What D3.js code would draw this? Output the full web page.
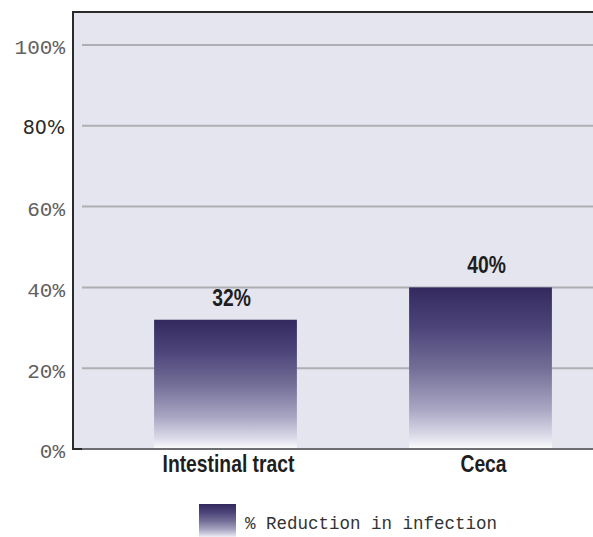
<!DOCTYPE html>
<html>
<head>
<meta charset="utf-8">
<script src="https://cdn.jsdelivr.net/npm/d3@7"></script>
<style>
  html, body { margin: 0; padding: 0; background: #ffffff; }
  svg { display: block; }
</style>
</head>
<body>
<svg id="chart" width="593" height="537"></svg>
<script>
// Chart data
const categories = ["Intestinal tract", "Ceca"];
const reduction = [32, 40];
const valueLabels = ["32%", "40%"];
const yTicks = [0, 20, 40, 60, 80, 100];
const yTickLabels = ["0%", "20%", "40%", "60%", "80%", "100%"];
const legendLabel = "% Reduction in infection";

const svg = d3.select("#chart");

const plot = { left: 73, top: 12, right: 633, bottom: 449 };

const x = d3.scaleBand()
  .domain(categories)
  .range([plot.left, plot.right])
  .paddingInner(0.44)
  .paddingOuter(0.318);

const y = d3.scaleLinear()
  .domain([0, 100])
  .range([plot.bottom, plot.bottom - 404]);

// Bar gradient: deep indigo fading to white
const defs = svg.append("defs");
const grad = defs.append("linearGradient")
  .attr("id", "barGrad")
  .attr("x1", 0).attr("y1", 0).attr("x2", 0).attr("y2", 1);
[
  [0, "#33295f"],
  [0.25, "#4d457a"],
  [0.5, "#736e97"],
  [0.75, "#a8a5c2"],
  [0.92, "#dcdbe9"],
  [1, "#fdfdfe"]
].forEach(([o, c]) => grad.append("stop").attr("offset", o).attr("stop-color", c));

// Plot background
svg.append("rect")
  .attr("x", plot.left).attr("y", plot.top)
  .attr("width", plot.right - plot.left).attr("height", plot.bottom - plot.top)
  .attr("fill", "#e5e5ef");

// Gridlines
svg.append("g")
  .selectAll("line")
  .data(yTicks.filter(d => d > 0))
  .join("line")
  .attr("x1", plot.left + 9).attr("x2", plot.right)
  .attr("y1", d => y(d)).attr("y2", d => y(d))
  .attr("stroke", "#aeaeb4")
  .attr("stroke-width", 2);

// Bars
svg.append("g")
  .selectAll("rect")
  .data(categories)
  .join("rect")
  .attr("x", d => x(d))
  .attr("y", (d, i) => y(reduction[i]))
  .attr("width", x.bandwidth())
  .attr("height", (d, i) => y(0) - y(reduction[i]))
  .attr("fill", "url(#barGrad)");

// Frame: left and top borders, baseline
svg.append("line")
  .attr("x1", plot.left).attr("x2", plot.right)
  .attr("y1", plot.top).attr("y2", plot.top)
  .attr("stroke", "#2a2a2a").attr("stroke-width", 2);
svg.append("line")
  .attr("x1", plot.left).attr("x2", plot.left)
  .attr("y1", plot.top - 1).attr("y2", plot.bottom + 1)
  .attr("stroke", "#2a2a2a").attr("stroke-width", 2);
svg.append("line")
  .attr("x1", plot.left).attr("x2", plot.right)
  .attr("y1", y(0)).attr("y2", y(0))
  .attr("stroke", "#6e6e72").attr("stroke-width", 2);
svg.append("line")
  .attr("x1", plot.left).attr("x2", plot.left + 9)
  .attr("y1", y(0)).attr("y2", y(0))
  .attr("stroke", "#2a2a2a").attr("stroke-width", 2);

// Y tick labels
svg.append("g")
  .selectAll("text")
  .data(yTicks)
  .join("text")
  .attr("x", 65)
  .attr("y", d => y(d) + 2)
  .attr("dy", "0.35em")
  .attr("text-anchor", "end")
  .attr("font-family", d => d === 80 ? "'DejaVu Sans', sans-serif" : "'Liberation Mono', 'DejaVu Sans Mono', monospace")
  .attr("font-size", d => d === 80 ? "19px" : "21px")
  .attr("fill", d => d === 80 ? "#2a2a2a" : "#606060")
  .text((d, i) => yTickLabels[i]);

// Category labels
svg.append("g")
  .selectAll("text")
  .data(categories)
  .join("text")
  .attr("transform", d => `translate(${x(d) + x.bandwidth() / 2 + 3},${plot.bottom + 23}) scale(0.84,1)`)
  .attr("text-anchor", "middle")
  .attr("font-family", "'Liberation Sans', Arial, sans-serif")
  .attr("font-weight", "bold")
  .attr("font-size", "23px")
  .attr("fill", "#1e1e1e")
  .text(d => d);

// Value labels above bars
svg.append("g")
  .selectAll("text")
  .data(categories)
  .join("text")
  .attr("transform", (d, i) => `translate(${x(d) + x.bandwidth() / 2 + 6},${y(reduction[i]) - 14}) scale(0.84,1)`)
  .attr("text-anchor", "middle")
  .attr("font-family", "'Liberation Sans', Arial, sans-serif")
  .attr("font-weight", "bold")
  .attr("font-size", "23px")
  .attr("fill", "#1e1e1e")
  .text((d, i) => valueLabels[i]);

// Legend
const legend = svg.append("g").attr("transform", "translate(199,504)");
legend.append("rect")
  .attr("width", 37).attr("height", 34)
  .attr("fill", "url(#barGrad)");
legend.append("text")
  .attr("x", 46).attr("y", 25)
  .attr("font-family", "'Liberation Mono', 'DejaVu Sans Mono', monospace")
  .attr("font-size", "17.5px")
  .attr("fill", "#333333")
  .text(legendLabel);
</script>
</body>
</html>
